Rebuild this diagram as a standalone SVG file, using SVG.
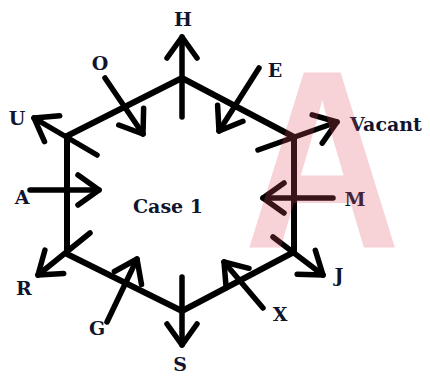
<svg xmlns="http://www.w3.org/2000/svg" width="430" height="377" viewBox="0 0 430 377">
<style>
.edge{fill:none;stroke:#000;stroke-width:6;stroke-linejoin:round;stroke-linecap:round}
.arr{fill:none;stroke:#000;stroke-width:5.5;stroke-linecap:round;marker-end:url(#head)}
.lbl{font-family:"DejaVu Serif","Liberation Serif",serif;font-weight:bold;font-size:19px;fill:#10152e;text-anchor:middle}
.wm{font-family:"Liberation Sans","DejaVu Sans",sans-serif;font-weight:bold;font-size:255px;fill:#e0505f;opacity:0.25}
</style>
<defs>
<marker id="head" markerUnits="userSpaceOnUse" viewBox="-30 -20 40 40" markerWidth="40" markerHeight="40" refX="0" refY="0" orient="auto" overflow="visible">
<path d="M-21,-15 L0,0 L-21,15" fill="none" stroke="#000" stroke-width="5.5" stroke-linecap="round" stroke-linejoin="round"/>
</marker>
</defs>
<rect width="430" height="377" fill="#fff"/>
<g id="hexagon">
<path class="edge" d="M182,78 L294,137 L294,252 L182,311 L67,254 L67,136 Z"/>
</g>
<g id="connectors">
<line class="arr" x1="182" y1="117" x2="182" y2="37"/>
<line class="arr" x1="105" y1="78" x2="143" y2="134"/>
<line class="arr" x1="97" y1="155" x2="34" y2="118"/>
<line class="arr" x1="30" y1="190" x2="99" y2="190"/>
<line class="arr" x1="90" y1="233" x2="38" y2="275"/>
<line class="arr" x1="107" y1="322" x2="137" y2="259"/>
<line class="arr" x1="182" y1="277" x2="182" y2="345"/>
<line class="arr" x1="263" y1="308" x2="224" y2="262"/>
<line class="arr" x1="273" y1="237" x2="323" y2="275"/>
<line class="arr" x1="333" y1="198" x2="263" y2="198"/>
<line class="arr" x1="258" y1="150" x2="337" y2="122"/>
<line class="arr" x1="259" y1="68" x2="219" y2="131"/>
</g>
<g id="label-H"><text class="lbl" x="183" y="26">H</text></g>
<g id="label-O"><text class="lbl" x="100" y="70">O</text></g>
<g id="label-U"><text class="lbl" x="17" y="125">U</text></g>
<g id="label-E"><text class="lbl" x="275" y="77">E</text></g>
<g id="label-Vacant"><text class="lbl" x="386" y="131">Vacant</text></g>
<g id="label-A"><text class="lbl" x="22" y="204">A</text></g>
<g id="label-M"><text class="lbl" x="355" y="206">M</text></g>
<g id="label-R"><text class="lbl" x="24" y="295">R</text></g>
<g id="label-J"><text class="lbl" x="339" y="282">J</text></g>
<g id="label-G"><text class="lbl" x="97" y="335">G</text></g>
<g id="label-X"><text class="lbl" x="280" y="321">X</text></g>
<g id="label-S"><text class="lbl" x="180" y="371">S</text></g>
<g id="label-case"><text class="lbl" x="168" y="213">Case 1</text></g>
<g id="watermark"><text class="wm" x="0" y="248" transform="translate(244,0) scale(0.85,1)">A</text></g>
</svg>
